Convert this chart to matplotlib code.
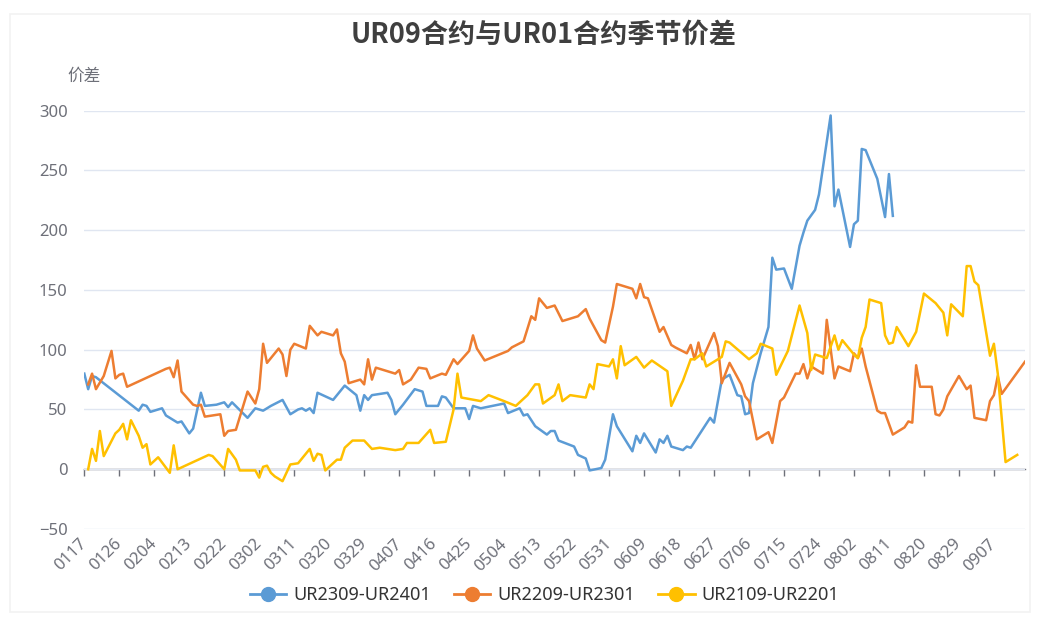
import matplotlib
matplotlib.use("Agg")
import matplotlib.pyplot as plt
import pandas as pd
from matplotlib.lines import Line2D
from matplotlib.patches import Rectangle

# category axis: every calendar day (leap-year calendar, like the source chart)
categories = pd.date_range("2020-01-17", "2020-09-15", freq="D").strftime("%m%d").tolist()
y_ticks = [-50, 0, 50, 100, 150, 200, 250, 300]

title = "UR09合约与UR01合约季节价差"
y_name = "价差"
names = ["UR2309-UR2401", "UR2209-UR2301", "UR2109-UR2201"]
colors = ["#5B9BD5", "#ED7D31", "#FFC000"]

blue_dates = ["0117", "0118", "0119", "0120", "0131", "0201", "0202", "0203", "0206", "0207",
              "0208", "0210", "0211", "0213", "0214", "0216", "0217", "0220", "0222", "0223",
              "0224", "0228", "0301", "0303", "0304", "0305", "0308", "0309", "0310", "0312",
              "0313", "0314", "0315", "0316", "0317", "0321", "0324", "0327", "0328", "0329",
              "0330", "0331", "0404", "0405", "0406", "0408", "0411", "0413", "0414", "0417",
              "0418", "0419", "0421", "0424", "0425", "0426", "0428", "0504", "0505", "0508",
              "0509", "0510", "0512", "0515", "0516", "0517", "0518", "0522", "0523", "0525",
              "0526", "0529", "0530", "0601", "0602", "0606", "0607", "0608", "0609", "0612",
              "0613", "0614", "0615", "0616", "0619", "0620", "0621", "0626", "0627", "0629",
              "0701", "0703", "0704", "0705", "0706", "0707", "0709", "0711", "0712", "0713",
              "0715", "0717", "0719", "0720", "0721", "0723", "0724", "0727", "0728", "0729",
              "0801", "0802", "0803", "0804", "0805", "0808", "0810", "0811", "0812"]
blue_vals = [80, 67, 78, 77, 49, 54, 53, 48, 51, 45,
             43, 39, 40, 30, 34, 64, 53, 54, 56, 52,
             56, 43, 51, 49, 51, 53, 58, 52, 46, 50,
             51, 49, 51, 47, 64, 58, 70, 62, 49, 62,
             58, 62, 64, 58, 46, 54, 67, 65, 53, 53,
             61, 60, 51, 51, 42, 53, 51, 55, 47, 51,
             45, 46, 36, 29, 32, 32, 24, 19, 12, 9,
             -1, 1, 8, 46, 36, 15, 28, 22, 30, 14,
             25, 22, 28, 19, 16, 19, 18, 43, 39, 75,
             79, 62, 61, 46, 47, 72, 97, 119, 177, 167,
             168, 151, 187, 198, 208, 217, 230, 296, 220, 234,
             186, 205, 208, 268, 267, 243, 211, 247, 212]

orange_dates = ["0118", "0119", "0120", "0122", "0124", "0125", "0126", "0127", "0128", "0207",
                "0208", "0209", "0210", "0211", "0214", "0215", "0216", "0217", "0221", "0222",
                "0223", "0225", "0228", "0301", "0302", "0303", "0304", "0307", "0308", "0309",
                "0310", "0311", "0314", "0315", "0317", "0318", "0321", "0322", "0323", "0324",
                "0325", "0328", "0329", "0330", "0331", "0401", "0406", "0407", "0408", "0410",
                "0412", "0414", "0415", "0418", "0419", "0421", "0422", "0425", "0426", "0427",
                "0429", "0505", "0506", "0509", "0511", "0512", "0513", "0515", "0517", "0519",
                "0523", "0525", "0526", "0529", "0530", "0601", "0602", "0606", "0607", "0608",
                "0609", "0610", "0613", "0614", "0616", "0617", "0620", "0621", "0622", "0623",
                "0624", "0627", "0628", "0629", "0701", "0704", "0705", "0706", "0708", "0711",
                "0712", "0714", "0715", "0718", "0719", "0720", "0721", "0722", "0725", "0726",
                "0728", "0729", "0801", "0802", "0803", "0804", "0805", "0808", "0809", "0810",
                "0812", "0815", "0816", "0817", "0818", "0819", "0822", "0823", "0824", "0825",
                "0826", "0829", "0831", "0901", "0902", "0905", "0906", "0907", "0908", "0909",
                "0915"]
orange_vals = [71, 80, 67, 78, 99, 76, 79, 80, 69, 84,
               85, 77, 91, 65, 54, 53, 54, 44, 46, 28,
               32, 33, 65, 55, 67, 105, 89, 101, 96, 78,
               100, 105, 101, 120, 112, 115, 112, 117, 97, 90,
               72, 75, 71, 92, 75, 85, 80, 83, 71, 75,
               85, 84, 76, 80, 79, 92, 88, 99, 112, 101,
               91, 99, 102, 107, 128, 125, 143, 135, 137, 124,
               128, 134, 126, 108, 106, 136, 155, 151, 143, 155,
               144, 143, 115, 119, 104, 102, 97, 104, 92, 106,
               92, 114, 103, 72, 89, 71, 61, 57, 25, 31,
               22, 57, 60, 80, 80, 88, 76, 86, 80, 125,
               76, 86, 82, 97, 93, 101, 86, 49, 47, 47,
               29, 35, 40, 39, 87, 69, 69, 46, 45, 50,
               61, 78, 67, 70, 43, 41, 57, 62, 78, 63,
               90]

yellow_dates = ["0118", "0119", "0120", "0121", "0122", "0125", "0126", "0127", "0128", "0129",
                "0131", "0201", "0202", "0203", "0205", "0208", "0209", "0210", "0218", "0219",
                "0222", "0223", "0225", "0226", "0301", "0302", "0303", "0304", "0305", "0306",
                "0308", "0310", "0312", "0315", "0316", "0317", "0318", "0319", "0322", "0323",
                "0324", "0326", "0329", "0331", "0402", "0406", "0408", "0409", "0412", "0415",
                "0416", "0419", "0421", "0422", "0423", "0428", "0430", "0504", "0507", "0510",
                "0512", "0513", "0514", "0517", "0518", "0519", "0521", "0525", "0526", "0527",
                "0528", "0531", "0601", "0602", "0603", "0604", "0607", "0609", "0611", "0615",
                "0616", "0619", "0621", "0622", "0624", "0625", "0629", "0630", "0701", "0706",
                "0708", "0709", "0712", "0713", "0716", "0719", "0721", "0722", "0723", "0726",
                "0728", "0729", "0730", "0802", "0803", "0804", "0805", "0806", "0809", "0810",
                "0811", "0812", "0813", "0816", "0818", "0820", "0823", "0825", "0826", "0827",
                "0830", "0831", "0901", "0902", "0903", "0906", "0907", "0908", "0910", "0913"]
yellow_vals = [0, 17, 7, 32, 11, 30, 33, 38, 25, 41,
               28, 18, 21, 4, 10, -3, 20, 0, 12, 11,
               0, 17, 8, -1, -1, -7, 2, 3, -3, -6,
               -10, 4, 5, 17, 7, 13, 12, -1, 8, 8,
               18, 24, 24, 17, 18, 16, 17, 22, 22, 33,
               22, 23, 50, 80, 60, 57, 62, 57, 53, 62,
               71, 71, 55, 62, 71, 57, 62, 60, 71, 67,
               88, 86, 92, 76, 103, 87, 94, 85, 91, 82,
               53, 74, 92, 92, 97, 86, 94, 107, 106, 92,
               97, 105, 101, 79, 99, 137, 114, 83, 96, 93,
               112, 100, 108, 96, 93, 110, 119, 142, 139, 112,
               105, 106, 119, 103, 115, 147, 139, 131, 112, 138,
               128, 170, 170, 157, 154, 95, 105, 80, 6, 12]

series = [(blue_dates, blue_vals), (orange_dates, orange_vals), (yellow_dates, yellow_vals)]
pos = {c: i for i, c in enumerate(categories)}

W, H = 1056, 621
fig = plt.figure(figsize=(W / 100, H / 100), dpi=100)
fig.patches.append(Rectangle((10 / W, 1 - 612 / H), 1020 / W, 598 / H, transform=fig.transFigure,
                             fill=False, edgecolor="#f2f2f2", lw=1.2))

ax = fig.add_axes([84.3 / W, 1 - 529 / H, (1025 - 84.3) / W, (529 - 110.7) / H])
for (dates, vals), c, n in zip(series, colors, names):
    ax.plot([pos[d] for d in dates], vals, color=c, lw=1.8, label=n,
            solid_joinstyle="round", zorder=3)

ax.set_xlim(0, len(categories) - 1)
ax.set_ylim(y_ticks[0], y_ticks[-1])
ax.set_yticks(y_ticks)
ax.grid(axis="y", color="#E0E6F1", lw=1)
ax.set_axisbelow(True)
for s in ax.spines.values():
    s.set_visible(False)
ax.tick_params(axis="y", length=0, pad=12, labelsize=12, labelcolor="#6E7079")

tick_idx = list(range(0, len(categories), 9))
ax.set_xticks(tick_idx)
ax.set_xticklabels([categories[i] for i in tick_idx], rotation=45, ha="right", va="center",
                   rotation_mode="anchor")
ax.tick_params(axis="x", length=0, pad=9, labelsize=12, labelcolor="#6E7079")
for lab in ax.get_xticklabels() + ax.get_yticklabels():
    lab.set_family("Noto Sans")

# axis line sits on zero, labels stay at the bottom
zero_ax = ax.secondary_xaxis((0 - y_ticks[0]) / (y_ticks[-1] - y_ticks[0]))
zero_ax.set_xticks(tick_idx)
zero_ax.tick_params(length=5, width=1, color="#6E7079", labelbottom=False, labeltop=False)
zero_ax.spines["bottom"].set_color("#6E7079")
zero_ax.spines["bottom"].set_linewidth(1)

fig.text(0.5147, 1 - 35 / H, title, ha="center", va="center", fontsize=19.5, fontweight="bold",
         color="#3f3f3f", family=["Noto Sans CJK SC", "DejaVu Sans"])
fig.text(84.3 / W, 1 - 76 / H, y_name, ha="center", va="center", fontsize=12,
         color="#6E7079", family=["Noto Sans CJK SC", "DejaVu Sans"])

handles = [Line2D([], [], color=c, lw=2, marker="o", markersize=10) for c in colors]
fig.legend(handles, names, loc="center", bbox_to_anchor=(0.5156, 1 - 595 / H), ncol=3,
           frameon=False, handlelength=2.0, handletextpad=0.4, columnspacing=1.3,
           labelcolor="#333333", prop={"family": "Noto Sans", "size": 13})

fig.savefig("out.png", dpi=100)
